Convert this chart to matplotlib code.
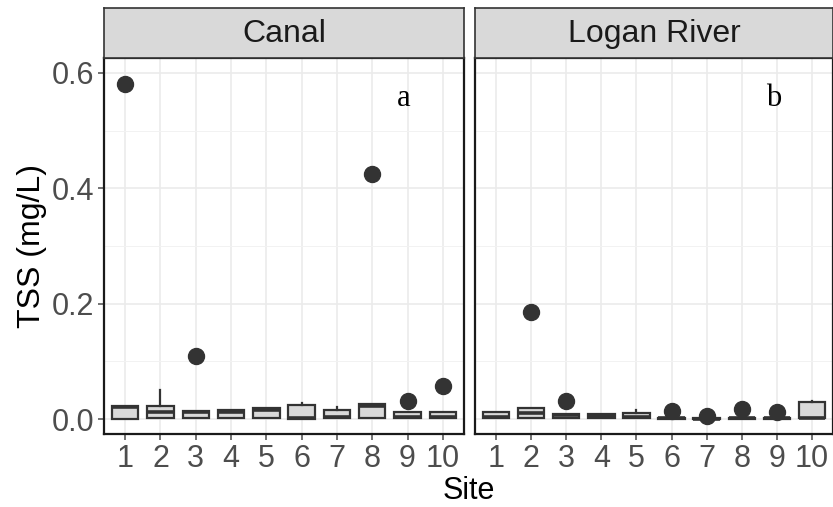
import matplotlib
matplotlib.use("Agg")
import matplotlib.pyplot as plt

plt.rcParams["font.family"] = ["Liberation Sans", "DejaVu Sans"]

sites = list(range(1, 11))
panels = ["Canal", "Logan River"]
letters = ["a", "b"]

# box statistics
canal_whislo = [0.0, 0.002, 0.002, 0.002, 0.002, 0.0, 0.001, 0.001, 0.001, 0.001]
canal_q1 = [0.0, 0.002, 0.002, 0.002, 0.002, 0.0, 0.001, 0.001, 0.001, 0.001]
canal_med = [0.020, 0.0126, 0.012, 0.013, 0.016, 0.002, 0.003, 0.023, 0.004, 0.004]
canal_q3 = [0.022, 0.023, 0.014, 0.015, 0.0185, 0.025, 0.015, 0.026, 0.0126, 0.0126]
canal_whishi = [0.022, 0.051, 0.014, 0.015, 0.0185, 0.028, 0.021, 0.026, 0.0126, 0.0126]
canal_out = [[0.581], [], [0.109], [], [], [], [], [0.425], [0.031], [0.057]]

logan_whislo = [0.001, 0.001, 0.001, 0.001, 0.001, 0.0, 0.0, 0.0, 0.0, 0.001]
logan_q1 = [0.001, 0.001, 0.001, 0.001, 0.001, 0.0, 0.0, 0.0, 0.0, 0.001]
logan_med = [0.004, 0.010, 0.007, 0.006, 0.004, 0.001, 0.0, 0.001, 0.001, 0.002]
logan_q3 = [0.013, 0.019, 0.0086, 0.0086, 0.010, 0.002, 0.001, 0.002, 0.002, 0.029]
logan_whishi = [0.013, 0.019, 0.0086, 0.0086, 0.015, 0.002, 0.001, 0.002, 0.002, 0.032]
logan_out = [[], [0.185], [0.031], [], [], [0.014], [0.006], [0.018], [0.013], []]

data = [
    (canal_whislo, canal_q1, canal_med, canal_q3, canal_whishi, canal_out),
    (logan_whislo, logan_q1, logan_med, logan_q3, logan_whishi, logan_out),
]

fig = plt.figure(figsize=(8.33, 5.07), dpi=100)
lefts = [104 / 833, 475 / 833]
widths = [360 / 833, 358 / 833]
bottom, height = 1 - 434 / 507, (434 - 58) / 507
strip_h = 50 / 507

dark = "#333333"
for i, (lo, q1, med, q3, hi, out) in enumerate(data):
    ax = fig.add_axes([lefts[i], bottom, widths[i], height])
    stats = []
    for k in range(len(sites)):
        stats.append(dict(whislo=lo[k], q1=q1[k], med=med[k], q3=q3[k],
                          whishi=hi[k], fliers=out[k]))
    ax.bxp(stats, positions=sites, widths=0.75, patch_artist=True,
           showcaps=False,
           boxprops=dict(facecolor="#d9d9d9", edgecolor=dark, linewidth=1.6),
           medianprops=dict(color=dark, linewidth=2.6),
           whiskerprops=dict(color=dark, linewidth=1.6),
           flierprops=dict(marker="o", markerfacecolor=dark, markeredgecolor=dark,
                           markersize=11.5), zorder=3)
    ax.set_xlim(0.4, 10.6)
    ax.set_ylim(-0.026, 0.626)
    ax.set_xticks(sites)
    ax.set_xticklabels([str(s) for s in sites])
    ax.set_yticks([0.0, 0.2, 0.4, 0.6])
    ax.set_yticks([0.1, 0.3, 0.5], minor=True)
    ax.grid(True, which="major", color="#ebebeb", linewidth=1.2, zorder=0)
    ax.grid(True, which="minor", axis="y", color="#f2f2f2", linewidth=0.7, zorder=0)
    ax.set_axisbelow(True)
    ax.tick_params(axis="both", which="major", labelsize=22, colors="#4d4d4d",
                   length=4, width=1.1, pad=3)
    ax.tick_params(axis="y", which="minor", length=0)
    for s in ax.spines.values():
        s.set_color("#1a1a1a")
        s.set_linewidth(1.6)
    if i == 0:
        ax.set_ylabel("TSS (mg/L)", fontsize=23, labelpad=3)
    else:
        ax.tick_params(axis="y", labelleft=False, length=0)
    ax.text(8.9, 0.555, letters[i], fontsize=22, family="Liberation Serif",
            ha="center", va="center")

    sax = fig.add_axes([lefts[i], bottom + height, widths[i], strip_h])
    sax.set_facecolor("#d9d9d9")
    sax.set_xticks([])
    sax.set_yticks([])
    for s in sax.spines.values():
        s.set_color("#333333")
        s.set_linewidth(1.2)
    sax.text(0.5, 0.48, panels[i], fontsize=23, ha="center", va="center",
             transform=sax.transAxes, color="#1a1a1a")

fig.text(469 / 833, 1 / 507, "Site", fontsize=22, ha="center", va="bottom")

fig.savefig("out.png", dpi=100)
